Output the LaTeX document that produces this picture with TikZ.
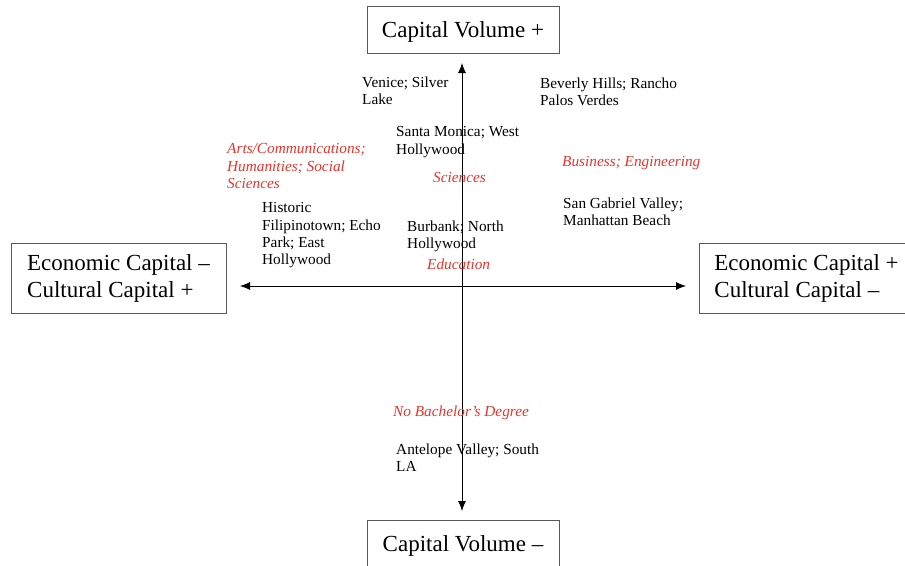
\documentclass[tikz,border=0pt]{standalone}
\usepackage{fontspec}
\setmainfont{Liberation Serif}
\usetikzlibrary{arrows.meta}
\definecolor{lblred}{RGB}{232,52,44}
\definecolor{boxgray}{RGB}{90,90,90}
\tikzset{
  bigbox/.style={draw=boxgray, line width=0.8pt, inner sep=0pt, align=left,
    font=\fontsize{23}{27}\selectfont},
  place/.style={anchor=north west, inner sep=0pt, align=left,
    font=\fontsize{15.3}{17.3}\selectfont},
  field/.style={place, text=lblred, font=\fontsize{15.3}{17.3}\selectfont\itshape},
  axis/.style={line width=0.8pt, {Latex[length=10pt,width=8pt]}-{Latex[length=10pt,width=8pt]}}
}
\begin{document}
\begin{tikzpicture}[x=1pt,y=-1pt]
\useasboundingbox (0,0) rectangle (905,565);
% boxes
\node[bigbox, minimum width=192pt, minimum height=47pt, text depth=0.5pt] (cvp) at (463,29.5) {Capital Volume +};
\node[bigbox, minimum width=192pt, minimum height=47pt, text depth=0.5pt] (cvm) at (463,543.5) {Capital Volume –};
\node[bigbox, minimum width=215pt, minimum height=70pt] (ecm) at (118.5,278) {Economic Capital –\\Cultural Capital +};
\node[bigbox, minimum width=215pt, minimum height=70pt] (ecp) at (806.5,278) {Economic Capital +\\Cultural Capital –};
% axes
\coordinate (atop) at (462,63);
\coordinate (abot) at (462,511);
\coordinate (aleft) at (240,286);
\coordinate (aright) at (686,286);
\draw[axis] (abot) -- (atop);
\draw[axis] (aleft) -- (aright);
% places
\node[place] (venice) at (362,76.5) {Venice; Silver\\Lake};
\node[place] (beverly) at (540,77.5) {Beverly Hills; Rancho\\Palos Verdes};
\node[place] (santa) at (396,126.5) {Santa Monica; West\\Hollywood};
\node[place] (sangab) at (563,197.5) {San Gabriel Valley;\\Manhattan Beach};
\node[place] (historic) at (262,202.5) {Historic\\Filipinotown; Echo\\Park; East\\Hollywood};
\node[place] (burbank) at (407,220.5) {Burbank; North\\Hollywood};
\node[place] (antelope) at (396,443.5) {Antelope Valley; South\\LA};
% fields
\node[field] (arts) at (227,143.5) {Arts/Communications;\\Humanities; Social\\Sciences};
\node[field] (business) at (562,156.5) {Business; Engineering};
\node[field] (sciences) at (433,172.5) {Sciences};
\node[field] (education) at (427,258.5) {Education};
\node[field] (nobach) at (393,405.5) {No Bachelor’s Degree};
\end{tikzpicture}
\end{document}
